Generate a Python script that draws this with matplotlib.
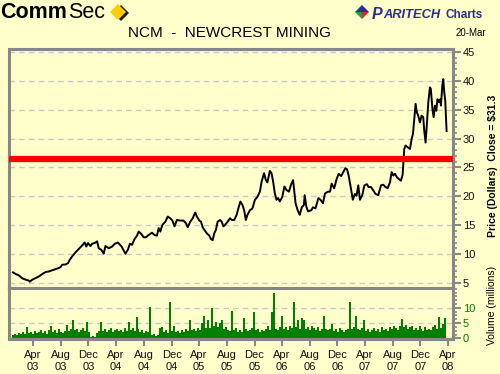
import matplotlib
matplotlib.use('Agg')
import matplotlib.pyplot as plt
import matplotlib.dates as mdates
from matplotlib.ticker import MultipleLocator, FixedLocator, NullFormatter
from matplotlib.patches import Polygon
import pandas as pd
from datetime import datetime

plt.rcParams['font.family'] = ['Liberation Sans', 'DejaVu Sans']

# ---------------- data ----------------
price_years = [
    2003.006, 2003.038, 2003.078, 2003.119, 2003.159, 2003.199, 2003.207, 2003.239, 2003.279, 2003.32,
    2003.36, 2003.40, 2003.44, 2003.48, 2003.52, 2003.56, 2003.58, 2003.60, 2003.64, 2003.67,
    2003.69, 2003.72, 2003.76, 2003.80, 2003.84, 2003.87, 2003.89, 2003.91, 2003.94, 2003.96,
    2003.99, 2004.02, 2004.04, 2004.07, 2004.10, 2004.12, 2004.16, 2004.20,
    2004.235, 2004.27, 2004.295, 2004.315, 2004.335, 2004.36, 2004.39, 2004.415, 2004.44, 2004.47,
    2004.50, 2004.52, 2004.55, 2004.58, 2004.605, 2004.64, 2004.68, 2004.71, 2004.74, 2004.76,
    2004.78, 2004.805, 2004.84, 2004.87, 2004.90, 2004.925, 2004.95, 2004.98, 2005.02, 2005.06,
    2005.09, 2005.11, 2005.14, 2005.17, 2005.20, 2005.22, 2005.25, 2005.27, 2005.29, 2005.31,
    2005.34, 2005.37, 2005.39, 2005.41, 2005.43, 2005.45, 2005.47, 2005.50, 2005.52, 2005.54,
    2005.56, 2005.59, 2005.62, 2005.64, 2005.67, 2005.70, 2005.72, 2005.745, 2005.77, 2005.79,
    2005.81, 2005.83, 2005.86, 2005.89, 2005.92, 2005.95, 2005.98, 2006.00, 2006.03, 2006.05,
    2006.07, 2006.10, 2006.12, 2006.14, 2006.16, 2006.18, 2006.20, 2006.22, 2006.25, 2006.275,
    2006.30, 2006.33, 2006.355, 2006.38, 2006.395, 2006.41, 2006.435, 2006.46, 2006.485, 2006.51,
    2006.52, 2006.54, 2006.56, 2006.60, 2006.62, 2006.65, 2006.685, 2006.71, 2006.74, 2006.765,
    2006.80, 2006.825, 2006.845, 2006.875,
    2006.885, 2006.905, 2006.93, 2006.96, 2006.985, 2007.01, 2007.03, 2007.05, 2007.065, 2007.085,
    2007.10, 2007.125, 2007.145, 2007.166, 2007.186, 2007.214, 2007.24, 2007.27, 2007.29, 2007.32,
    2007.347, 2007.375, 2007.407, 2007.44, 2007.467, 2007.495, 2007.52, 2007.548, 2007.568, 2007.588,
    2007.608, 2007.632, 2007.656, 2007.68, 2007.70, 2007.712, 2007.72, 2007.736, 2007.76, 2007.789,
    2007.809, 2007.825, 2007.841, 2007.857, 2007.873, 2007.889, 2007.909, 2007.929, 2007.949, 2007.961,
    2007.977, 2007.993, 2008.01, 2008.03, 2008.04, 2008.06, 2008.074, 2008.09, 2008.106, 2008.12,
    2008.138, 2008.154, 2008.162, 2008.178, 2008.19, 2008.202, 2008.214, 2008.222, 2008.23,
]
price_values = [
    6.84, 6.55, 6.3, 5.8, 5.57, 5.4, 5.2, 5.57, 5.86, 6.15,
    6.55, 6.9, 7.0, 7.2, 7.4, 7.6, 7.76, 8.16, 8.2, 8.45,
    9.0, 9.6, 10.3, 10.9, 11.5, 12.0, 11.3, 11.9, 11.4, 11.8,
    11.9, 12.2, 11.0, 10.75, 10.06, 11.4, 11.0, 11.3,
    11.8, 12.0, 11.6, 11.3, 10.75, 10.06, 10.75, 11.8, 11.6, 12.6,
    13.2, 13.9, 13.5, 12.9, 12.9, 13.3, 13.7, 13.3, 13.2, 14.5,
    13.9, 15.06, 15.6, 16.5, 16.2, 15.8, 14.8, 15.9, 15.8, 15.8,
    15.3, 14.65, 15.6, 16.2, 17.2, 16.5, 15.8, 15.6, 14.65, 14.2,
    13.6, 13.2, 12.6, 12.4, 13.6, 14.2, 15.6, 15.9, 15.6, 14.8,
    15.06, 15.6, 16.2, 15.9, 15.9, 16.8, 17.9, 19.1, 18.5, 17.6,
    15.9, 16.8, 17.6, 17.9, 19.4, 19.9, 20.8, 22.5, 24.0, 22.9,
    22.4, 24.4, 24.0, 22.5, 20.5, 19.4, 19.7, 19.1, 19.9, 21.7,
    21.1, 20.8, 22.0, 22.8, 20.8, 18.8, 17.6, 16.8, 18.1, 18.5,
    20.2, 18.2, 17.4, 17.6, 18.1, 17.9, 19.7, 19.4, 18.8, 20.5,
    20.8, 20.8, 22.2, 21.4,
    21.9, 23.0, 23.9, 23.5, 24.2, 24.85, 24.7, 23.6, 22.4, 20.7,
    19.4, 20.4, 20.1, 21.9, 19.4, 20.2, 21.9, 22.1, 21.6, 21.6,
    21.0, 20.4, 20.2, 21.9, 22.0, 21.6, 21.4, 22.4, 24.2, 23.6,
    23.9, 23.3, 23.0, 22.7, 23.7, 26.2, 28.2, 28.8, 28.5, 28.2,
    29.9, 30.8, 33.4, 36.0, 34.5, 33.95, 32.8, 33.95, 33.7, 31.4,
    29.3, 32.5, 36.3, 38.85, 38.6, 35.1, 33.7, 35.7, 34.8, 36.8,
    36.3, 36.8, 35.7, 39.1, 40.3, 38.0, 36.5, 33.7, 31.3,
]
volume_values = [
    1.2, 1.5, 1.0, 1.8, 1.3, 2.0, 1.6, 3.7, 1.8, 2.2,
    1.5, 2.5, 1.7, 2.0, 2.6, 1.8, 2.3, 1.6, 2.8, 4.2,
    2.0, 2.7, 1.9, 3.0, 2.2, 1.8, 2.5, 4.5, 2.3, 3.0,
    5.9, 2.6, 3.2, 2.0, 2.8, 3.5, 2.4, 5.3, 2.0, 0.6,
    0.8, 0.5, 1.8, 2.4, 5.3, 2.5, 3.0, 2.2, 2.8, 3.3,
    2.0, 2.6, 3.1, 2.4, 2.9, 2.2, 3.4, 2.5, 5.3, 2.8,
    3.5, 2.4, 6.9, 3.0, 2.2, 2.9, 1.8, 2.4, 2.0, 10.4,
    1.0, 1.3, 0.9, 1.2, 3.4, 3.8, 2.2, 2.6, 1.9, 11.8,
    2.4, 4.2, 2.0, 2.5, 1.8, 2.9, 2.2, 3.0, 2.4, 5.9,
    2.6, 3.2, 2.3, 3.5, 2.8, 5.1, 7.4, 3.3, 6.1, 3.5,
    9.8, 4.0, 5.3, 3.6, 5.1, 5.9, 3.2, 3.8, 2.7,
    2.5, 9.1, 2.8, 3.4, 2.2, 2.6, 2.0, 6.7, 3.0, 2.4,
    2.8, 3.4, 8.5, 2.6, 3.0, 2.2, 2.8, 2.4, 3.2, 4.0,
    2.6, 8.5, 14.9, 3.2, 2.8, 3.6, 7.2, 3.0, 3.8, 2.6,
    4.0, 3.4, 11.8, 3.6, 6.1, 3.2, 6.7, 6.1, 3.0, 3.8,
    2.6, 4.2, 3.3, 2.8, 3.6, 2.4, 3.0, 7.2, 3.2, 2.6,
    3.0, 4.8, 2.4, 3.0, 2.2, 3.5, 2.8, 2.0, 2.6, 3.2,
    11.8, 3.0, 3.8, 7.2, 3.2, 2.6, 3.4, 6.1, 2.4, 3.0,
    2.2, 2.8, 3.4, 2.5, 3.0, 2.2, 3.6, 2.7, 3.2, 2.4,
    3.8, 3.0, 4.0, 3.4, 2.8, 4.2, 6.5, 3.6, 4.4, 3.0,
    3.8, 4.2, 2.8, 3.4, 2.6, 4.2, 3.0, 2.4, 3.6, 2.8,
    3.2, 2.6, 3.8, 4.5, 3.0, 6.9, 3.4, 4.6, 6.6,
]
volume_start = '2003-01-03'
volume_end = '2008-03-20'
x_tick_dates = ['2003-04-01', '2003-08-01', '2003-12-01', '2004-04-01', '2004-08-01',
                '2004-12-01', '2005-04-01', '2005-08-01', '2005-12-01', '2006-04-01',
                '2006-08-01', '2006-12-01', '2007-04-01', '2007-08-01', '2007-12-01',
                '2008-04-01']
x_tick_labels = ['Apr\n03', 'Aug\n03', 'Dec\n03', 'Apr\n04', 'Aug\n04', 'Dec\n04',
                 'Apr\n05', 'Aug\n05', 'Dec\n05', 'Apr\n06', 'Aug\n06', 'Dec\n06',
                 'Apr\n07', 'Aug\n07', 'Dec\n07', 'Apr\n08']
price_ticks = [5, 10, 15, 20, 25, 30, 35, 40, 45]
volume_ticks = [0, 5, 10]
resistance_level = 26.5
last_close = 31.3
title_text = 'NCM  -  NEWCREST MINING'
date_text = '20-Mar'

# ---------------- style ----------------
BG = '#FFFFCC'
FRAME = '#878787'
GRID = '#C8C8C8'
GREEN = '#008000'


def year_to_date(y):
    yr = int(y)
    start = datetime(yr, 1, 1)
    end = datetime(yr + 1, 1, 1)
    return start + (end - start) * (y - yr)


price_dates = [year_to_date(y) for y in price_years]
vol_dates = pd.date_range(volume_start, volume_end, periods=len(volume_values))
bar_w = (vol_dates[1] - vol_dates[0]).total_seconds() / 86400.0 * 1.0

fig = plt.figure(figsize=(5.0, 3.74), dpi=100, facecolor=BG)
W, H = 500.0, 374.0
left, right = 9 / W, 453 / W
p_top, sep, v_bot = 1 - 49 / H, 1 - 288 / H, 1 - 339 / H
ax = fig.add_axes([left, sep, right - left, p_top - sep], facecolor=BG)
axv = fig.add_axes([left, v_bot, right - left, sep - v_bot], facecolor=BG, sharex=ax)

# price panel
ax.plot(price_dates, price_values, color='black', lw=1.4, zorder=3)
ax.axhline(resistance_level, color='#FF0000', lw=4.5, zorder=4)
ax.set_ylim(4.13, 45.5)
ax.yaxis.tick_right()
ax.yaxis.set_major_locator(FixedLocator(price_ticks))
ax.yaxis.set_minor_locator(MultipleLocator(1))
for t in price_ticks:
    ax.axhline(t, color=GRID, lw=1.0, ls=(0, (4, 3)), zorder=1)
ax.tick_params(axis='y', which='major', length=6, width=1.5, color=FRAME,
               labelsize=8, pad=1, labelcolor='#111111')
ax.tick_params(axis='y', which='minor', length=3, width=1.2, color=FRAME)
ax.tick_params(axis='x', which='both', bottom=False, labelbottom=False)

# volume panel
axv.bar(vol_dates, volume_values, width=bar_w, color=GREEN, linewidth=0,
        antialiased=False, zorder=3)
axv.set_ylim(-0.2, 16.5)
axv.yaxis.tick_right()
axv.yaxis.set_major_locator(FixedLocator(volume_ticks))
axv.yaxis.set_minor_locator(MultipleLocator(1.25))
for t in volume_ticks[1:]:
    axv.axhline(t, color=GRID, lw=1.0, ls=(0, (4, 3)), zorder=1)
axv.tick_params(axis='y', which='major', length=6, width=1.5, color=FRAME,
                labelsize=8, pad=1, labelcolor=GREEN)
axv.tick_params(axis='y', which='minor', length=3, width=1.2, color=FRAME)

axv.set_xlim(year_to_date(2002.958), year_to_date(2008.307))
axv.xaxis.set_major_locator(FixedLocator(mdates.date2num(pd.to_datetime(x_tick_dates))))
axv.set_xticklabels(x_tick_labels)
axv.tick_params(axis='x', which='major', length=5, width=1.5, color=FRAME,
                labelsize=8, pad=3, labelcolor='#111111')
axv.xaxis.set_minor_formatter(NullFormatter())

for a in (ax, axv):
    for s in a.spines.values():
        s.set_color(FRAME)
        s.set_linewidth(2.2)

# overlay for header and side labels (pixel coordinates)
ov = fig.add_axes([0, 0, 1, 1], facecolor='none')
ov.set_xlim(0, W)
ov.set_ylim(H, 0)
ov.axis('off')

ov.text(229, 33, title_text, ha='center', va='center', fontsize=11, color='black')
ov.text(471, 33, date_text, ha='center', va='center', fontsize=7, color='black')

# CommSec logo
ov.text(0, 12, 'Comm', ha='left', va='center', fontsize=15.5, fontweight='bold', color='black')
ov.text(68, 12, 'Sec', ha='left', va='center', fontsize=15.5, color='black')
ov.add_patch(Polygon([[113, 13], [121, 5], [129, 13], [121, 21]], closed=True,
                     facecolor='#1A1A1A', edgecolor='none'))
ov.add_patch(Polygon([[110, 12], [118, 4], [126, 12], [118, 20]], closed=True,
                     facecolor='#FFCC00', edgecolor='none'))

# Paritech logo
ov.add_patch(Polygon([[355, 12], [362, 5], [369, 12]], closed=True, facecolor='#2B2F8F', edgecolor='none'))
ov.add_patch(Polygon([[355, 12], [362, 19], [362, 12]], closed=True, facecolor='#1E9E3A', edgecolor='none'))
ov.add_patch(Polygon([[362, 12], [362, 19], [369, 12]], closed=True, facecolor='#E0262A', edgecolor='none'))
ov.text(372, 14, 'P', ha='left', va='center', fontsize=11.5, fontweight='bold',
        fontstyle='italic', color='#2B2F8F')
ov.text(383.5, 15, 'ARITECH', ha='left', va='center', fontsize=9.3, fontweight='bold',
        fontstyle='italic', color='#2B2F8F')
ov.text(446, 15, 'Charts', ha='left', va='center', fontsize=8.5, fontweight='bold',
        color='#2B2F8F')

# right-side labels
ov.text(493, 166, 'Price (Dollars)  Close = $%.1f' % last_close, ha='center', va='center',
        rotation=90, fontsize=7.5, fontweight='bold', color='black')
ov.text(492, 305, 'Volume (millions)', ha='center', va='center', rotation=90,
        fontsize=7.5, color='black')

fig.savefig('out.png', dpi=100, facecolor=BG)
